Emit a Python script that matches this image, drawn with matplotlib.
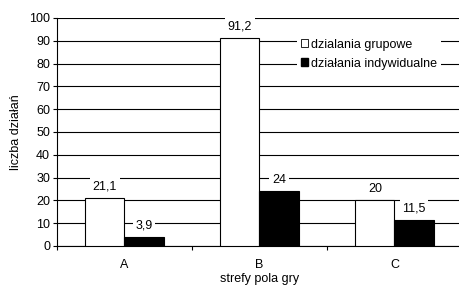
import matplotlib
matplotlib.use("Agg")
import matplotlib.pyplot as plt
import numpy as np
from matplotlib.patches import Patch

categories = ["A", "B", "C"]
grupowe = [21.1, 91.2, 20]
indywidualne = [3.9, 24, 11.5]
labels_g = ["21,1", "91,2", "20"]
labels_i = ["3,9", "24", "11,5"]
series_names = ["dzialania grupowe", "działania indywidualne"]

plt.rcParams['font.family'] = ['Liberation Sans', 'DejaVu Sans']
FS = 9

fig = plt.figure(figsize=(4.6, 2.86), dpi=100)
ax = fig.add_axes([57/460, 40/286, 405/460, 228/286])

x = np.arange(len(categories))
w = 0.289
ax.bar(x - w/2, grupowe, w, color='white', edgecolor='black', linewidth=0.8, zorder=3)
ax.bar(x + w/2, indywidualne, w, color='black', edgecolor='black', linewidth=0.8, zorder=3)

for xi, v, t in zip(x - w/2, grupowe, labels_g):
    ax.text(xi, v + 2.5, t, ha='center', va='bottom', fontsize=FS,
            bbox=dict(facecolor='white', edgecolor='none', pad=2), zorder=4)
for xi, v, t in zip(x + w/2, indywidualne, labels_i):
    ax.text(xi, v + 2.5, t, ha='center', va='bottom', fontsize=FS,
            bbox=dict(facecolor='white', edgecolor='none', pad=2), zorder=4)

ax.set_xlim(-0.5, 2.5)
ax.set_ylim(0, 100)
ax.set_yticks(range(0, 101, 10))
ax.yaxis.grid(True, color='black', linewidth=0.8, zorder=0)
ax.set_axisbelow(True)
ax.set_xticks(x)
ax.set_xticklabels(categories)
ax.set_xticks([-0.5, 0.5, 1.5, 2.5], minor=True)
ax.tick_params(axis='x', which='major', length=0, labelsize=FS, pad=9)
ax.tick_params(axis='x', which='minor', length=3, width=0.8, direction='out')
ax.tick_params(axis='y', length=3, width=0.8, labelsize=FS, pad=2)

for s in ['top', 'right']:
    ax.spines[s].set_visible(False)
ax.spines['left'].set_linewidth(0.8)
ax.spines['bottom'].set_linewidth(0.8)

ax.set_xlabel("strefy pola gry", fontsize=FS, labelpad=1.5)
ax.set_ylabel("liczba działań", fontsize=FS, labelpad=5)

handles = [Patch(facecolor='white', edgecolor='black', linewidth=0.6),
           Patch(facecolor='black', edgecolor='black')]
leg = ax.legend(handles, series_names, loc='upper left', bbox_to_anchor=(240/405, 0.925),
                fontsize=FS, frameon=True, fancybox=False, framealpha=1,
                edgecolor='none', handlelength=0.6, handleheight=0.6,
                handletextpad=0.25, labelspacing=0.55, borderpad=0.3, borderaxespad=0)
leg.set_zorder(5)

fig.savefig("out.png", dpi=100)
